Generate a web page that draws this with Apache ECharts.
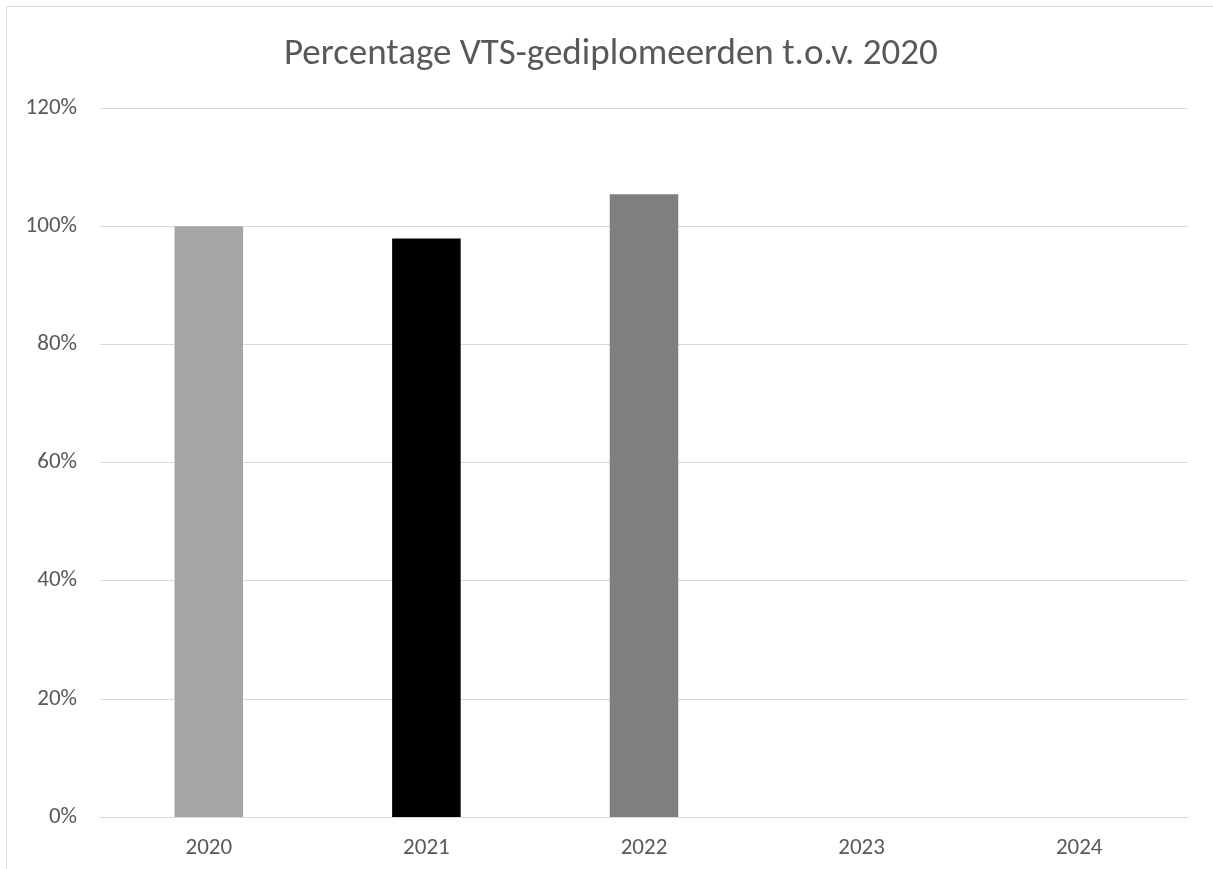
<!DOCTYPE html>
<html>
<head>
<meta charset="utf-8">
<script src="https://cdn.jsdelivr.net/npm/echarts@6/dist/echarts.min.js"></script>
<style>
  html, body { margin: 0; padding: 0; background: #fff; }
  #chart { width: 1213px; height: 869px; }
</style>
</head>
<body>
<div id="chart"></div>
<script>
// data
var years = ['2020', '2021', '2022', '2023', '2024'];
var percentages = [100, 97.9, 105.4, null, null];
var barColors = ['#a5a5a5', '#000000', '#7f7f7f', '#a5a5a5', '#000000'];
var yTicks = [0, 20, 40, 60, 80, 100, 120];

var font = 'Carlito, "Liberation Sans Narrow", "Open Sans", sans-serif';
var chart = echarts.init(document.getElementById('chart'));
var option = {
    animation: false,
    backgroundColor: '#ffffff',
    title: {
        text: 'Percentage VTS-gediplomeerden t.o.v. 2020',
        left: 279,
        top: 31,
        textStyle: {
            color: '#595959',
            fontFamily: font,
            fontWeight: 'normal',
            fontSize: 37
        }
    },
    graphic: [{
        type: 'rect',
        shape: { x: 6.5, y: 6.5, width: 1220, height: 900 },
        style: { fill: 'none', stroke: '#d9d9d9', lineWidth: 1 },
        silent: true
    }],
    grid: {
        left: 100,
        right: 25,
        top: 108,
        bottom: 52
    },
    xAxis: {
        type: 'category',
        data: years,
        axisLine: { show: true, lineStyle: { color: '#d9d9d9', width: 1 } },
        axisTick: { show: false },
        axisLabel: {
            color: '#595959',
            fontFamily: font,
            fontSize: 23,
            margin: 20
        }
    },
    yAxis: {
        type: 'value',
        min: yTicks[0],
        max: yTicks[yTicks.length - 1],
        interval: 20,
        axisLine: { show: false },
        axisTick: { show: false },
        splitLine: { lineStyle: { color: '#d9d9d9', width: 1 } },
        axisLabel: {
            color: '#595959',
            fontFamily: font,
            fontSize: 23,
            margin: 23,
            formatter: function (v) { return v + '%'; }
        }
    },
    series: [{
        type: 'bar',
        barWidth: '31.5%',
        data: percentages.map(function (v, i) {
            return { value: v, itemStyle: { color: barColors[i] } };
        })
    }]
};
chart.setOption(option);
</script>
</body>
</html>
